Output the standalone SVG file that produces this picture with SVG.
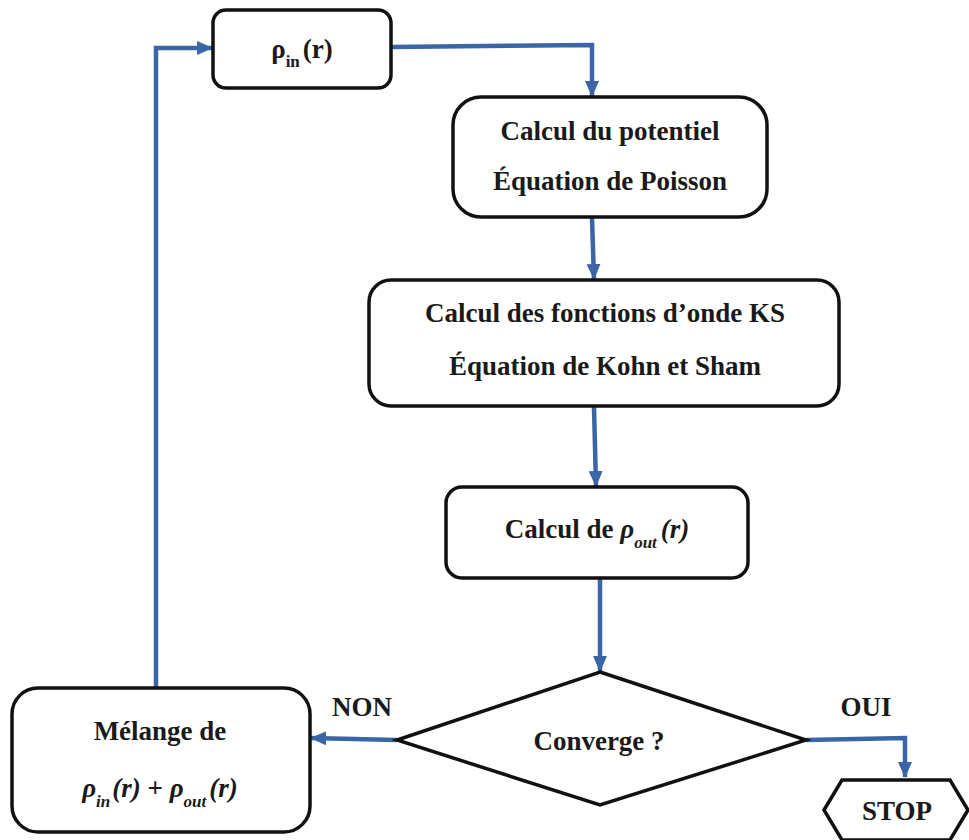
<svg xmlns="http://www.w3.org/2000/svg" width="969" height="840" viewBox="0 0 969 840">
<style>
.box{fill:#fff;stroke:#111;stroke-width:3.5}
.t{font-family:'Liberation Serif','Times New Roman',Times,'DejaVu Serif',serif;font-weight:bold;font-size:27px;fill:#1a1a1a;text-anchor:middle}
.lbl{font-family:'Liberation Serif','Times New Roman',Times,'DejaVu Serif',serif;font-weight:bold;font-size:27px;fill:#1a1a1a;text-anchor:middle}
.c{fill:none;stroke:#3a66a7;stroke-width:4.5}
.i{font-style:italic}
</style>
<defs>
<marker id="ah" markerUnits="userSpaceOnUse" markerWidth="16" markerHeight="16" refX="15" refY="8" orient="auto">
<path d="M0,1 L16,8 L0,15 Z" fill="#3a66a7"/>
</marker>
</defs>
<rect width="969" height="840" fill="#fff"/>
<g id="connectors">
<path class="c" d="M391,47 L592,45 L592,96" marker-end="url(#ah)"/>
<path class="c" d="M592,218 L594,279" marker-end="url(#ah)"/>
<path class="c" d="M594,407 L596,486" marker-end="url(#ah)"/>
<path class="c" d="M600,579 L600,671" marker-end="url(#ah)"/>
<path class="c" d="M397,740 L311,738" marker-end="url(#ah)"/>
<path class="c" d="M806,740 L905,738 L905,777" marker-end="url(#ah)"/>
<path class="c" d="M156,688 L156,48 L212,48" marker-end="url(#ah)"/>
</g>
<g id="rho-in">
<rect class="box" x="213" y="10" width="178" height="78" rx="13"/>
<text class="t" x="302" y="58">ρ<tspan font-size="17" dy="9">in</tspan><tspan dy="-9" dx="3">(r)</tspan></text>
</g>
<g id="potentiel">
<rect class="box" x="453" y="97" width="314" height="120" rx="28"/>
<text class="t" x="610" y="140" font-size="25">Calcul du potentiel</text>
<text class="t" x="610" y="190" font-size="25">Équation de Poisson</text>
</g>
<g id="ks">
<rect class="box" x="369" y="280" width="470" height="126" rx="22"/>
<text class="t" x="605" y="322" font-size="28">Calcul des fonctions d’onde KS</text>
<text class="t" x="605" y="375" font-size="28">Équation de Kohn et Sham</text>
</g>
<g id="rho-out">
<rect class="box" x="446" y="487" width="302" height="91" rx="16"/>
<text class="t" x="597" y="538">Calcul de <tspan class="i">ρ</tspan><tspan class="i" font-size="17" dy="10">out</tspan><tspan class="i" dy="-10" dx="4">(r)</tspan></text>
</g>
<g id="converge">
<polygon class="box" points="600,672 806,740 600,805 397,740"/>
<text class="t" x="599" y="750">Converge ?</text>
</g>
<g id="melange">
<rect class="box" x="12" y="688" width="298" height="144" rx="26"/>
<text class="t" x="160" y="740">Mélange de</text>
<text class="t" x="160" y="797"><tspan class="i">ρ</tspan><tspan class="i" font-size="17" dy="10">in</tspan><tspan class="i" dy="-10" dx="2">(r)</tspan> + <tspan class="i">ρ</tspan><tspan class="i" font-size="17" dy="10">out</tspan><tspan class="i" dy="-10" dx="3">(r)</tspan></text>
</g>
<g id="stop">
<polygon class="box" points="824,810 842,780 950,780 968,810 950,840 842,840"/>
<text class="t" x="897" y="820" font-size="23">STOP</text>
</g>
<g id="labels">
<text class="lbl" x="362" y="716">NON</text>
<text class="lbl" x="866" y="716">OUI</text>
</g>
</svg>
